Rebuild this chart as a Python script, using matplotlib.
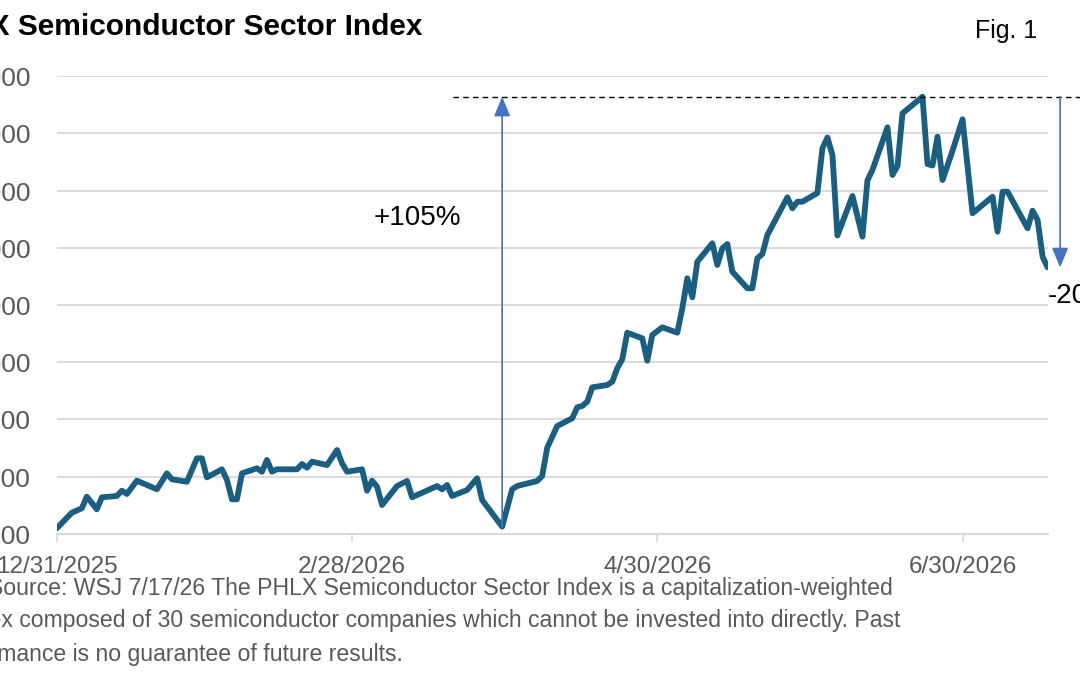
import pandas as pd
import matplotlib
matplotlib.use('Agg')
import matplotlib.pyplot as plt
from matplotlib.ticker import FuncFormatter

start = pd.Timestamp('2025-12-31')
end = pd.Timestamp('2026-07-17')

# calendar days after 12/31/2025
days = [0, 3, 5, 6, 8, 9, 12, 13, 14, 16,
        20, 22, 23, 26, 28, 29, 30, 33, 34, 35,
        36, 37, 40, 41, 42, 43, 44, 48, 49, 50,
        51, 54, 56, 57, 58, 61, 62, 63, 64, 65,
        68, 70, 71, 76, 77, 78, 79, 82, 84, 85,
        89, 91, 92, 96, 97, 98, 100, 103, 104, 105,
        106, 107, 110, 111, 112, 113, 114, 117, 118, 119,
        121, 124, 125, 126, 127, 128, 131, 132, 133, 134,
        135, 138, 139, 140, 141, 142, 146, 147, 148, 149,
        152, 153, 154, 155, 156, 159, 161, 162, 163, 166,
        167, 168, 169, 173, 174, 175, 176, 177, 179, 181,
        183, 187, 188, 189, 190, 194, 195, 196, 197, 198]

sox = [7100, 7372, 7449, 7652, 7431, 7641, 7664, 7756, 7699, 7931,
       7781, 8060, 7955, 7913, 8322, 8322, 7990, 8130, 7943, 7606,
       7606, 8060, 8148, 8088, 8293, 8088, 8130, 8130, 8223, 8158,
       8263, 8205, 8467, 8235, 8088, 8130, 7756, 7931, 7826, 7507,
       7838, 7926, 7641, 7838, 7781, 7856, 7664, 7769, 7973, 7594,
       7128, 7781, 7838, 7926, 8013, 8507, 8886, 9021, 9213, 9236,
       9311, 9562, 9603, 9660, 9894, 10051, 10516, 10418, 10027, 10476,
       10610, 10516, 10942, 11466, 11134, 11756, 12078, 11699, 11990, 12065,
       11582, 11292, 11292, 11816, 11891, 12223, 12881, 12689, 12804, 12804,
       12956, 13737, 13926, 13620, 12214, 12904, 12193, 13178, 13358, 14104,
       13271, 13428, 14348, 14638, 13463, 13437, 13940, 13183, 13695, 14244,
       12602, 12892, 12280, 12979, 12979, 12340, 12647, 12485, 11844, 11658]

tick_dates = ['2025-12-31', '2026-02-28', '2026-04-30', '2026-06-30']
y_ticks = list(range(7000, 15001, 1000))

title = 'PHLX Semiconductor Sector Index'
source_lines = [
    'Source: WSJ 7/17/26 The PHLX Semiconductor Sector Index is a capitalization-weighted',
    'index composed of 30 semiconductor companies which cannot be invested into directly. Past',
    'performance is no guarantee of future results.',
]

plt.rcParams['font.family'] = ['Liberation Sans', 'DejaVu Sans']

dates = start + pd.to_timedelta(days, unit='D')
series = pd.Series(sox, index=dates)

line_col = '#1a5f82'
arrow_col = '#4472c4'
grid_col = '#d9d9d9'
label_col = '#595959'

fig = plt.figure(figsize=(10.8, 6.75), dpi=100)
ax = fig.add_axes([0.0526, 0.2089, 0.9174, 0.6785])

ax.plot(series.index, series.values, color=line_col, lw=4.2,
        solid_joinstyle='round', solid_capstyle='round', zorder=3)

ax.set_xlim(start, end)
ax.set_ylim(y_ticks[0], y_ticks[-1])
ax.set_yticks(y_ticks)
ax.yaxis.set_major_formatter(FuncFormatter(lambda v, p: f'{v:,.0f}'))
ax.grid(axis='y', color=grid_col, lw=1.3)
ax.set_axisbelow(True)

xt = pd.to_datetime(tick_dates)
ax.set_xticks(xt)
ax.set_xticklabels([f'{d.month}/{d.day}/{d.year}' for d in xt])

for s in ['top', 'right', 'left']:
    ax.spines[s].set_visible(False)
ax.spines['bottom'].set_color(grid_col)
ax.spines['bottom'].set_linewidth(1.5)

ax.tick_params(axis='y', length=0, pad=19, labelsize=19, labelcolor=label_col)
ax.tick_params(axis='x', length=6, width=1.2, color=grid_col, pad=10,
               labelsize=17.5, labelcolor=label_col)

# rally from the March low to the June peak, then the pullback
low_date = series['2026-03-01':].idxmin()
low = series[low_date]
peak = series.max()
last_date = series.index[-1]
last = series.iloc[-1]

ax.plot([0.40, 1.05], [peak, peak], transform=ax.get_yaxis_transform(),
        color='black', lw=1, ls=(0, (4, 3)), clip_on=False, zorder=4)

arrow = dict(arrowstyle='-|>,head_length=1.2,head_width=0.5', color=arrow_col,
             lw=1.2, shrinkA=0, shrinkB=0)
ax.annotate('', xy=(low_date, peak), xytext=(low_date, low),
            arrowprops=arrow, annotation_clip=False, zorder=4)
arrow_x = last_date + pd.Timedelta(days=2.5)
ax.annotate('', xy=(arrow_x, last), xytext=(arrow_x, peak),
            arrowprops=arrow, annotation_clip=False, zorder=4)

ax.text(start + pd.Timedelta(days=72), 12520, f'+{(peak / low - 1) * 100:.0f}%',
        ha='center', va='center', fontsize=20, color='black')
ax.annotate(f'{(last / peak - 1) * 100:.0f}%', xy=(last_date, last),
            xytext=(0, -11), textcoords='offset points',
            ha='left', va='top', fontsize=20, color='black', annotation_clip=False)

fig.text(422 / 1080, 1 - 27 / 675, title, ha='right', va='center',
         fontsize=21.5, fontweight='bold', color='black')
fig.text(1037 / 1080, 1 - 31 / 675, 'Fig. 1', ha='right', va='center',
         fontsize=18, color='black')

src_right = [893, 900, 403]
src_y = [589, 621, 654]
for txt, xr, yc in zip(source_lines, src_right, src_y):
    fig.text(xr / 1080, 1 - yc / 675, txt, ha='right', va='center',
             fontsize=16.6, color=label_col)

fig.savefig('out.png', dpi=100)
